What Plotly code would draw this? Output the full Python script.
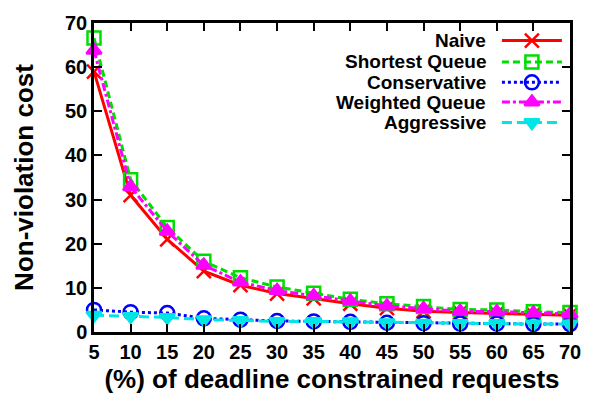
import plotly.graph_objects as go

x_vals = [5, 10, 15, 20, 25, 30, 35, 40, 45, 50, 55, 60, 65, 70]
naive = [59.0, 31.0, 21.0, 13.8, 10.6, 8.7, 7.6, 6.4, 5.4, 4.7, 4.4, 4.2, 4.0, 3.8]
shortest_queue = [66.6, 34.5, 23.7, 16.0, 12.3, 10.2, 8.8, 7.4, 6.4, 5.8, 5.1, 5.0, 4.6, 4.4]
conservative = [5.0, 4.5, 4.3, 3.1, 2.8, 2.5, 2.4, 2.3, 2.1, 2.0, 1.9, 1.9, 1.8, 1.8]
weighted_queue = [63.8, 32.9, 22.8, 15.1, 11.3, 9.4, 8.2, 7.0, 5.9, 5.3, 4.7, 4.6, 4.3, 4.1]
aggressive = [3.8, 3.5, 3.3, 2.8, 2.6, 2.4, 2.4, 2.3, 2.1, 2.0, 1.9, 1.9, 1.8, 1.8]

series_names = ["Naive", "Shortest Queue", "Conservative", "Weighted Queue", "Aggressive"]
series_vals = [naive, shortest_queue, conservative, weighted_queue, aggressive]
colors = ["#ff0000", "#00dd00", "#0000ff", "#ff00ff", "#00e5e5"]
dashes = ["solid", "7px,4px", "3px,3px", "8px,3px,3px,3px", "10px,5px"]
symbols = ["x-thin-open", "square-open", "circle-open", "triangle-up", "triangle-down"]
msizes = [14, 13, 14, 13, 13]

x_ticks = x_vals
y_ticks = [0, 10, 20, 30, 40, 50, 60, 70]

FONT = "Liberation Sans, Arial, sans-serif"

fig = go.Figure()
for name, vals, c, d, s, ms in zip(series_names, series_vals, colors, dashes, symbols, msizes):
    fig.add_trace(go.Scatter(
        x=x_vals, y=vals, mode="lines+markers", name=name,
        line=dict(color=c, width=3, dash=d),
        marker=dict(symbol=s, size=ms, color=c, line=dict(color=c, width=2.5)),
        showlegend=False, cliponaxis=False,
    ))

# custom legend (text right-aligned, key on right) on an overlay axis spanning the plot area
leg_y = [0.943, 0.874, 0.808, 0.744, 0.678]
for i, (name, c, d, s, ms) in enumerate(zip(series_names, colors, dashes, symbols, msizes)):
    fig.add_trace(go.Scatter(
        x=[0.857, 0.983], y=[leg_y[i]] * 2, xaxis="x2", yaxis="y2",
        mode="lines", line=dict(color=c, width=3, dash=d),
        showlegend=False, hoverinfo="skip",
    ))
    fig.add_trace(go.Scatter(
        x=[0.92], y=[leg_y[i]], xaxis="x2", yaxis="y2", mode="markers",
        marker=dict(symbol=s, size=ms, color=c, line=dict(color=c, width=2.5)),
        showlegend=False, hoverinfo="skip",
    ))
    fig.add_annotation(x=0.828, y=leg_y[i], xref="x2", yref="y2", text=name,
                       showarrow=False, xanchor="right", yanchor="middle",
                       font=dict(family=FONT, size=19, color="black", weight="bold"))

fig.update_layout(
    width=600, height=402,
    margin=dict(l=94, r=30, t=17, b=68),
    paper_bgcolor="white", plot_bgcolor="white",
    font=dict(family=FONT, color="black"),
    xaxis=dict(range=[5, 70], tickvals=x_ticks, ticktext=[str(v) for v in x_ticks],
               ticks="inside", ticklen=8, tickwidth=2, tickcolor="black",
               showline=True, linewidth=2.5, linecolor="black", mirror="ticks",
               showgrid=False, zeroline=False,
               tickfont=dict(family=FONT, size=20, weight="bold"),
               title=dict(text="(%) of deadline constrained requests",
                          font=dict(family=FONT, size=26, weight="bold"), standoff=9)),
    yaxis=dict(range=[0, 70], tickvals=y_ticks,
               ticks="inside", ticklen=8, tickwidth=2, tickcolor="black",
               showline=True, linewidth=2.5, linecolor="black", mirror="ticks",
               showgrid=False, zeroline=False,
               tickfont=dict(family=FONT, size=20, weight="bold"),
               title=dict(text="Non-violation cost",
                          font=dict(family=FONT, size=26, weight="bold"), standoff=24)),
    xaxis2=dict(domain=[0, 1], range=[0, 1], overlaying="x", visible=False, anchor="y2"),
    yaxis2=dict(domain=[0, 1], range=[0, 1], overlaying="y", visible=False, anchor="x2"),
)

fig.write_html("out.html")
